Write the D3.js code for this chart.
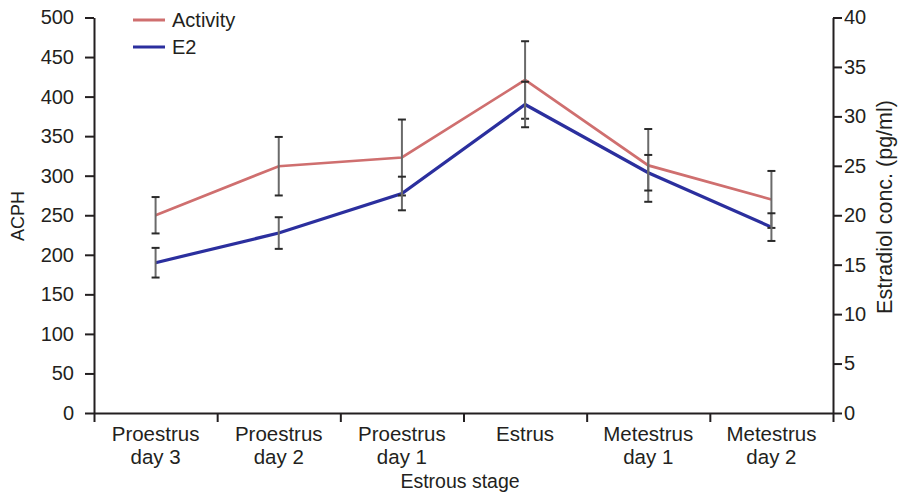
<!DOCTYPE html>
<html>
<head>
<meta charset="utf-8">
<script src="https://cdn.jsdelivr.net/npm/d3@7"></script>
<style>
  html, body { margin: 0; padding: 0; background: #fff; }
  svg { display: block; font-family: "Liberation Sans", Arial, sans-serif; }
</style>
</head>
<body>
<svg id="chart" width="898" height="499"></svg>
<script>
// ---- data ----
const categories = ["Proestrus day 3", "Proestrus day 2", "Proestrus day 1", "Estrus", "Metestrus day 1", "Metestrus day 2"];
const categoryLines = [["Proestrus", "day 3"], ["Proestrus", "day 2"], ["Proestrus", "day 1"], ["Estrus"], ["Metestrus", "day 1"], ["Metestrus", "day 2"]];
const activity = [250, 312, 323, 421, 313, 270];
const activityErr = [23, 37, 48, 49, 46, 36];
const e2 = [15.2, 18.2, 22.2, 31.2, 24.3, 18.8];
const e2Err = [1.5, 1.6, 1.7, 2.3, 1.8, 1.4];
const leftTicks = [0, 50, 100, 150, 200, 250, 300, 350, 400, 450, 500];
const rightTicks = [0, 5, 10, 15, 20, 25, 30, 35, 40];
const seriesNames = ["Activity", "E2"];
const seriesColors = ["#cf6f6f", "#2b2f9e"];

// ---- layout ----
const L = 94, R = 833, T = 17.5, B = 413;
const svg = d3.select("#chart");
const ink = "#231f20";

const x = d3.scaleBand().domain(categories).range([L, R]);
const xi = d3.scaleLinear().domain([0, categories.length]).range([L, R]);
const y = d3.scaleLinear().domain([0, 500]).range([B, T]);
const y2 = d3.scaleLinear().domain([0, 40]).range([B, T]);

function styleAxis(g) {
  g.selectAll("path, line").attr("stroke", ink).attr("stroke-width", 2);
  g.selectAll("text").attr("fill", ink).attr("font-size", 20);
}

// left axis
svg.append("g").attr("transform", `translate(${L},0)`)
  .call(d3.axisLeft(y).tickValues(leftTicks).tickSize(9).tickSizeOuter(0).tickPadding(11))
  .call(styleAxis);

// right axis
svg.append("g").attr("transform", `translate(${R},0)`)
  .call(d3.axisRight(y2).tickValues(rightTicks).tickSize(9).tickSizeOuter(0).tickPadding(2))
  .call(styleAxis);

// bottom axis (boundary ticks)
svg.append("g").attr("transform", `translate(0,${B})`)
  .call(d3.axisBottom(xi).tickValues(d3.range(categories.length + 1)).tickSize(9).tickSizeOuter(0).tickFormat(""))
  .call(styleAxis);

// category labels
const catG = svg.append("g");
categories.forEach((c, i) => {
  const t = catG.append("text")
    .attr("x", x(c) + x.bandwidth() / 2)
    .attr("y", 441)
    .attr("text-anchor", "middle")
    .attr("font-size", 20.5)
    .attr("fill", ink);
  categoryLines[i].forEach((ln, j) => {
    t.append("tspan").attr("x", x(c) + x.bandwidth() / 2).attr("dy", j === 0 ? 0 : 23).text(ln);
  });
});

// axis titles
svg.append("text").attr("x", 460).attr("y", 488).attr("text-anchor", "middle")
  .attr("font-size", 19.5).attr("fill", ink).text("Estrous stage");
svg.append("text").attr("transform", `translate(24,216) rotate(-90)`).attr("text-anchor", "middle")
  .attr("font-size", 18).attr("fill", ink).text("ACPH");
svg.append("text").attr("transform", `translate(892,207) rotate(-90)`).attr("text-anchor", "middle")
  .attr("font-size", 21.5).attr("fill", ink).text("Estradiol conc. (pg/ml)");

// lines
const cx = c => x(c) + x.bandwidth() / 2;
const lineA = d3.line().x((d, i) => cx(categories[i])).y(d => y(d));
const lineE = d3.line().x((d, i) => cx(categories[i])).y(d => y2(d));
svg.append("path").datum(activity).attr("d", lineA).attr("fill", "none")
  .attr("stroke", seriesColors[0]).attr("stroke-width", 2.7);
svg.append("path").datum(e2).attr("d", lineE).attr("fill", "none")
  .attr("stroke", seriesColors[1]).attr("stroke-width", 3.2);

// error bars
function errBars(vals, errs, scale) {
  const g = svg.append("g");
  vals.forEach((v, i) => {
    const px = cx(categories[i]);
    const y0 = scale(v - errs[i]), y1 = scale(v + errs[i]);
    g.append("line").attr("x1", px).attr("x2", px).attr("y1", y0).attr("y2", y1)
      .attr("stroke", "#6a6a6a").attr("stroke-width", 2);
    [y0, y1].forEach(yy => g.append("line").attr("x1", px - 4).attr("x2", px + 4)
      .attr("y1", yy).attr("y2", yy).attr("stroke", "#2a2a2a").attr("stroke-width", 2));
  });
}
errBars(activity, activityErr, y);
errBars(e2, e2Err, y2);

// legend
const leg = svg.append("g");
seriesNames.forEach((n, i) => {
  const yy = 20 + i * 27;
  leg.append("line").attr("x1", 133).attr("x2", 165).attr("y1", yy).attr("y2", yy)
    .attr("stroke", seriesColors[i]).attr("stroke-width", 3);
  leg.append("text").attr("x", 172).attr("y", yy + 7).attr("font-size", 20)
    .attr("fill", ink).text(n);
});
</script>
</body>
</html>
